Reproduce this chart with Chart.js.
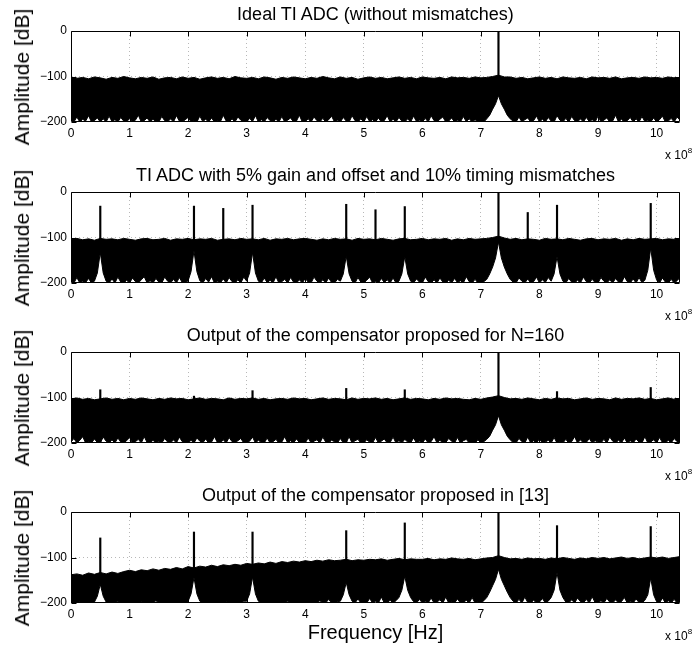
<!DOCTYPE html>
<html><head><meta charset="utf-8">
<script src="https://cdn.jsdelivr.net/npm/chart.js@4/dist/chart.umd.min.js"></script>
<style>
html,body{margin:0;padding:0;background:#fff;}
#wrap{position:relative;width:694px;height:645px;overflow:hidden;font-family:"Liberation Sans",Arial,sans-serif;color:#000;}
canvas{position:absolute;left:0;}
.title{position:absolute;left:71px;width:609px;text-align:center;font-size:18px;line-height:20px;white-space:nowrap;}
.ylab{position:absolute;left:22px;font-size:21px;line-height:22px;white-space:nowrap;transform:translate(-50%,-50%) rotate(-90deg);}
.exp{position:absolute;left:665px;font-size:12px;line-height:14px;white-space:nowrap;}
.exp sup{font-size:8px;position:relative;top:-1px;}
.xlab{position:absolute;left:71px;width:609px;text-align:center;font-size:20px;line-height:22px;white-space:nowrap;}
</style></head>
<body><div id="wrap"></div>
<script>
// frequency grid of the upper noise envelope (x 10^8 Hz)
const freq = [0,0.1,0.2,0.3,0.4,0.5,0.6,0.7,0.8,0.9,1,1.1,1.2,1.3,1.4,1.5,1.6,1.7,1.8,1.9,2,2.1,2.2,2.3,2.4,2.5,2.6,2.7,2.8,2.9,3,3.1,3.2,3.3,3.4,3.5,3.6,3.7,3.8,3.9,4,4.1,4.2,4.3,4.4,4.5,4.6,4.7,4.8,4.9,5,5.1,5.2,5.3,5.4,5.5,5.6,5.7,5.8,5.9,6,6.1,6.2,6.3,6.4,6.5,6.6,6.7,6.8,6.9,7,7.1,7.2,7.3,7.4,7.5,7.6,7.7,7.8,7.9,8,8.1,8.2,8.3,8.4,8.5,8.6,8.7,8.8,8.9,9,9.1,9.2,9.3,9.4,9.5,9.6,9.7,9.8,9.9,10,10.1,10.2,10.3,10.4];
// frequency grid of the lower noise envelope (x 10^8 Hz)
const botFreq = [0,0.05,0.1,0.15,0.2,0.25,0.3,0.35,0.4,0.45,
0.5,0.55,0.6,0.65,0.7,0.75,0.8,0.85,0.9,0.95,
1,1.05,1.1,1.15,1.2,1.25,1.3,1.35,1.4,1.45,
1.5,1.55,1.6,1.65,1.7,1.75,1.8,1.85,1.9,1.95,
2,2.05,2.1,2.15,2.2,2.25,2.3,2.35,2.4,2.45,
2.5,2.55,2.6,2.65,2.7,2.75,2.8,2.85,2.9,2.95,
3,3.05,3.1,3.15,3.2,3.25,3.3,3.35,3.4,3.45,
3.5,3.55,3.6,3.65,3.7,3.75,3.8,3.85,3.9,3.95,
4,4.05,4.1,4.15,4.2,4.25,4.3,4.35,4.4,4.45,
4.5,4.55,4.6,4.65,4.7,4.75,4.8,4.85,4.9,4.95,
5,5.05,5.1,5.15,5.2,5.25,5.3,5.35,5.4,5.45,
5.5,5.55,5.6,5.65,5.7,5.75,5.8,5.85,5.9,5.95,
6,6.05,6.1,6.15,6.2,6.25,6.3,6.35,6.4,6.45,
6.5,6.55,6.6,6.65,6.7,6.75,6.8,6.85,6.9,6.95,
7,7.05,7.1,7.15,7.2,7.25,7.3,7.35,7.4,7.45,
7.5,7.55,7.6,7.65,7.7,7.75,7.8,7.85,7.9,7.95,
8,8.05,8.1,8.15,8.2,8.25,8.3,8.35,8.4,8.45,
8.5,8.55,8.6,8.65,8.7,8.75,8.8,8.85,8.9,8.95,
9,9.05,9.1,9.15,9.2,9.25,9.3,9.35,9.4,9.45,
9.5,9.55,9.6,9.65,9.7,9.75,9.8,9.85,9.9,9.95,
10,10.05,10.1,10.15,10.2,10.25,10.3,10.35,10.4];

const titles = ["Ideal TI ADC (without mismatches)","TI ADC with 5% gain and offset and 10% timing mismatches","Output of the compensator proposed for N=160","Output of the compensator proposed in [13]"];
const yTicks = [0,-100,-200];
const xTicks = [0,1,2,3,4,5,6,7,8,9,10];

// Plot 1: ideal
const top1 = [-101,-104,-102,-105,-101,-103,-106,-102,-104,-100,
-103,-105,-102,-104,-101,-106,-103,-102,-105,-101,
-104,-102,-106,-103,-101,-104,-102,-105,-100,-103,
-104,-102,-105,-101,-103,-106,-102,-104,-101,-103,
-105,-102,-104,-100,-103,-105,-101,-104,-102,-106,
-103,-101,-104,-102,-105,-103,-101,-104,-102,-105,
-101,-103,-104,-102,-105,-101,-103,-102,-104,-101,
-103,-102,-100,-97,-101,-101,-104,-102,-105,-103,
-101,-104,-102,-105,-101,-103,-104,-102,-105,-101,
-103,-102,-104,-101,-105,-103,-102,-104,-101,-103,
-102,-104,-101,-103,-102];
const bot1 = [-196,-200,-189,-200,-194,-198,-186,-200,-197,-191,
-200,-193,-200,-187,-199,-195,-200,-190,-198,-200,
-192,-200,-196,-185,-200,-197,-191,-200,-194,-199,
-200,-188,-197,-200,-193,-200,-186,-198,-200,-195,
-190,-200,-196,-200,-187,-199,-194,-200,-191,-200,
-197,-200,-185,-198,-200,-193,-200,-189,-196,-200,
-200,-192,-199,-186,-200,-195,-200,-190,-197,-200,
-194,-200,-188,-200,-196,-191,-200,-198,-185,-200,
-199,-193,-200,-189,-197,-200,-192,-200,-195,-187,
-200,-196,-200,-190,-198,-200,-186,-197,-200,-193,
-200,-188,-199,-195,-200,-191,-200,-197,-186,-200,
-194,-200,-190,-198,-200,-193,-200,-187,-199,-196,
-200,-192,-200,-186,-197,-200,-194,-189,-200,-198,
-191,-200,-196,-200,-188,-199,-193,-200,-195,-200,
-198,-200,-193,-185,-172,-160,-142,-160,-172,-185,
-193,-198,-200,-189,-200,-195,-191,-200,-197,-187,
-200,-194,-200,-190,-198,-200,-186,-196,-200,-192,
-200,-188,-197,-200,-193,-200,-190,-199,-195,-200,
-187,-200,-196,-191,-200,-198,-185,-200,-194,-200,
-197,-190,-200,-193,-200,-188,-199,-196,-200,-191,
-200,-195,-187,-200,-198,-192,-200,-189,-196];
const spikeF1 = [7.3];
const spikeDb1 = [0];

// Plot 2: with mismatches
const top2 = [-104,-102,-105,-103,-106,-102,-104,-103,-105,-102,
-104,-106,-103,-102,-105,-104,-102,-106,-103,-104,
-102,-105,-103,-104,-102,-106,-104,-103,-105,-102,
-104,-103,-105,-102,-106,-103,-104,-102,-105,-103,
-102,-104,-106,-103,-105,-102,-104,-103,-106,-102,
-104,-103,-105,-102,-104,-106,-103,-102,-105,-104,
-102,-105,-103,-104,-102,-106,-103,-105,-102,-104,
-103,-102,-100,-97,-101,-104,-102,-105,-103,-104,
-106,-102,-104,-103,-105,-102,-104,-106,-103,-102,
-105,-103,-104,-102,-106,-103,-105,-102,-104,-103,
-102,-105,-103,-104,-102];
const bot2 = [-193,-200,-188,-200,-196,-199,-190,-200,-196,-178,
-133,-178,-196,-200,-191,-200,-187,-198,-200,-194,
-200,-189,-197,-200,-193,-186,-200,-195,-200,-190,
-198,-200,-187,-196,-200,-192,-200,-188,-199,-200,
-195,-175,-129,-175,-195,-200,-190,-198,-186,-200,
-196,-200,-191,-200,-188,-197,-200,-193,-200,-187,
-196,-178,-133,-178,-196,-200,-189,-199,-194,-200,
-186,-200,-197,-192,-200,-188,-198,-200,-193,-200,
-190,-198,-200,-187,-196,-200,-193,-200,-189,-199,
-200,-192,-196,-180,-141,-180,-196,-200,-188,-198,
-200,-194,-187,-200,-196,-200,-190,-199,-193,-200,
-189,-200,-196,-180,-142,-180,-196,-200,-191,-198,
-200,-187,-197,-200,-193,-200,-189,-198,-200,-194,
-200,-190,-199,-195,-200,-186,-197,-200,-192,-200,
-200,-197,-192,-180,-165,-145,-110,-145,-165,-180,
-192,-198,-200,-189,-196,-200,-191,-200,-197,-187,
-200,-193,-199,-188,-196,-180,-142,-180,-196,-200,
-190,-198,-200,-194,-200,-187,-197,-200,-192,-199,
-200,-188,-196,-200,-193,-200,-190,-198,-200,-186,
-197,-200,-191,-200,-188,-199,-194,-172,-123,-172,
-193,-200,-189,-198,-200,-192,-200,-195,-188];
const spikeF2 = [0.5,2.1,2.6,3.1,4.7,5.2,5.7,7.3,7.8,8.3,9.9];
const spikeDb2 = [-31,-31,-36,-29,-27,-39,-32,0,-45,-29,-25];

// Plot 3: proposed compensator N=160
const top3 = [-103,-101,-104,-102,-105,-103,-101,-104,-102,-105,
-102,-104,-101,-103,-105,-102,-104,-101,-103,-102,
-105,-103,-101,-104,-102,-103,-105,-101,-104,-102,
-103,-101,-104,-102,-105,-103,-102,-104,-101,-103,
-102,-105,-103,-101,-104,-102,-103,-105,-101,-104,
-102,-103,-101,-104,-102,-105,-103,-101,-104,-102,
-103,-105,-102,-104,-101,-103,-102,-104,-105,-102,
-104,-101,-99,-96,-100,-103,-102,-104,-101,-103,
-105,-102,-104,-101,-103,-102,-105,-103,-101,-104,
-102,-103,-105,-101,-104,-102,-103,-101,-104,-102,
-105,-103,-101,-104,-102];
const bot3 = [-198,-190,-200,-194,-186,-200,-197,-200,-191,-199,
-200,-187,-196,-200,-193,-200,-189,-198,-200,-195,
-188,-200,-197,-192,-200,-186,-199,-200,-194,-200,
-196,-200,-190,-198,-200,-193,-200,-187,-197,-200,
-200,-194,-200,-189,-196,-200,-191,-200,-198,-186,
-199,-200,-193,-200,-188,-197,-200,-195,-190,-200,
-200,-196,-187,-200,-194,-199,-200,-189,-200,-197,
-192,-200,-198,-186,-200,-195,-200,-191,-199,-200,
-200,-189,-200,-196,-193,-200,-187,-198,-200,-194,
-197,-200,-190,-200,-199,-186,-200,-195,-192,-200,
-200,-193,-198,-200,-188,-200,-196,-191,-200,-199,
-187,-200,-195,-200,-192,-198,-200,-189,-200,-196,
-200,-191,-200,-197,-186,-200,-194,-200,-199,-190,
-196,-200,-188,-200,-195,-192,-200,-198,-200,-193,
-200,-197,-192,-185,-172,-160,-140,-160,-172,-185,
-193,-199,-200,-190,-197,-200,-187,-200,-195,-200,
-191,-200,-198,-194,-200,-188,-200,-196,-200,-192,
-200,-197,-186,-200,-193,-200,-199,-190,-200,-195,
-198,-200,-192,-200,-187,-196,-200,-194,-200,-189,
-200,-195,-200,-191,-198,-200,-186,-200,-197,-193,
-200,-188,-199,-200,-194,-200,-190,-197,-200];
const spikeF3 = [0.5,2.1,3.1,4.7,5.7,7.3,8.3,9.9];
const spikeDb3 = [-83,-97,-85,-80,-83,0,-87,-78];

// Plot 4: compensator of [13]
const top4 = [-138,-136,-139,-134,-137,-133,-136,-132,-135,-131,
-128,-131,-127,-129,-125,-128,-124,-126,-122,-125,
-120,-123,-119,-121,-117,-120,-116,-118,-115,-117,
-113,-115,-112,-114,-110,-113,-109,-111,-108,-110,
-107,-109,-106,-108,-105,-107,-106,-104,-107,-105,
-106,-104,-105,-103,-106,-104,-102,-105,-103,-104,
-104,-102,-105,-103,-104,-101,-103,-104,-102,-105,
-103,-101,-100,-96,-100,-103,-102,-104,-101,-103,
-102,-104,-101,-103,-100,-102,-104,-101,-103,-100,
-102,-100,-103,-101,-99,-102,-100,-103,-101,-99,
-101,-99,-102,-100,-98];
const bot4 = [-200,-200,-200,-197,-200,-200,-200,-200,-198,-185,
-159,-185,-198,-200,-200,-200,-196,-200,-200,-200,
-200,-200,-200,-200,-197,-200,-200,-200,-200,-195,
-200,-200,-200,-200,-200,-198,-200,-200,-200,-200,
-196,-180,-144,-180,-196,-200,-200,-200,-198,-200,
-200,-200,-200,-197,-200,-200,-200,-200,-200,-196,
-196,-180,-143,-180,-196,-200,-200,-198,-200,-200,
-200,-200,-200,-200,-196,-200,-200,-200,-200,-200,
-200,-198,-200,-200,-200,-195,-200,-200,-192,-200,
-200,-197,-196,-182,-155,-182,-196,-200,-191,-200,
-198,-200,-190,-200,-196,-200,-187,-200,-199,-194,
-200,-195,-188,-172,-141,-172,-188,-197,-200,-192,
-200,-196,-200,-189,-200,-198,-193,-200,-187,-200,
-197,-200,-191,-200,-199,-194,-200,-188,-200,-196,
-200,-195,-188,-176,-162,-148,-126,-148,-162,-176,
-188,-196,-200,-192,-200,-187,-199,-200,-194,-200,
-198,-190,-200,-196,-188,-172,-133,-172,-188,-198,
-200,-193,-200,-189,-197,-200,-192,-200,-186,-199,
-200,-195,-200,-190,-198,-200,-193,-200,-197,-188,
-200,-196,-200,-191,-199,-200,-194,-182,-145,-182,
-197,-200,-189,-200,-195,-200,-192,-200,-197];
const spikeF4 = [0.5,2.1,3.1,4.7,5.7,7.3,8.3,9.9];
const spikeDb4 = [-57,-44,-44,-41,-24,0,-30,-32];

const panels = [
  {top:top1, bot:bot1, sf:spikeF1, sd:spikeDb1},
  {top:top2, bot:bot2, sf:spikeF2, sd:spikeDb2},
  {top:top3, bot:bot3, sf:spikeF3, sd:spikeDb3},
  {top:top4, bot:bot4, sf:spikeF4, sd:spikeDb4}
];
const canvasTop = [0,161,321,481];
const canvasH = [161,160,160,164];
const FONT = '"Liberation Sans", Arial, sans-serif';

const framePlugin = {
  id:'frame',
  afterDatasetsDraw(chart){
    const {ctx, chartArea:a, scales:{x,y}} = chart;
    const L = Math.round(a.left)+0.5, R = Math.round(a.right)-0.5;
    const T = Math.round(a.top)+0.5, B = Math.round(a.bottom)-0.5;
    ctx.save();
    ctx.strokeStyle = '#000'; ctx.lineWidth = 1;
    ctx.beginPath();
    ctx.rect(L, T, R-L, B-T);
    xTicks.forEach(v=>{
      if (v===0) return;
      const px = Math.round(x.getPixelForValue(v))+0.5;
      ctx.moveTo(px, T); ctx.lineTo(px, T+5);
      ctx.moveTo(px, B); ctx.lineTo(px, B-5);
    });
    yTicks.forEach(v=>{
      const py = Math.round(y.getPixelForValue(v))+0.5;
      ctx.moveTo(L, py); ctx.lineTo(L+5, py);
      ctx.moveTo(R, py); ctx.lineTo(R-5, py);
    });
    ctx.stroke();
    ctx.restore();
  }
};

function nearestIdx(arr, f){
  let best=0;
  for(let i=1;i<arr.length;i++){ if(Math.abs(arr[i]-f)<Math.abs(arr[best]-f)) best=i; }
  return best;
}

const wrap = document.getElementById('wrap');
panels.forEach((p, k)=>{
  const cv = document.createElement('canvas');
  cv.width = 694; cv.height = canvasH[k];
  cv.style.top = canvasTop[k]+'px';
  cv.style.width = '694px'; cv.style.height = canvasH[k]+'px';
  wrap.appendChild(cv);

  const t = document.createElement('div');
  t.className='title'; t.textContent = titles[k];
  t.style.top = (canvasTop[k]+4)+'px';
  wrap.appendChild(t);

  const yl = document.createElement('div');
  yl.className='ylab'; yl.textContent='Amplitude [dB]';
  yl.style.top = (canvasTop[k]+76.5)+'px';
  wrap.appendChild(yl);

  const ex = document.createElement('div');
  ex.className='exp'; ex.innerHTML='x 10<sup>8</sup>';
  ex.style.top = (canvasTop[k]+145)+'px';
  wrap.appendChild(ex);

  const H = canvasH[k];
  new Chart(cv, {
    type:'line',
    data:{
      datasets:[
        {data: botFreq.map((f,i)=>({x:f, y:p.bot[i]})), borderColor:'#000', borderWidth:1, pointRadius:0, fill:false, tension:0},
        {data: freq.map((f,i)=>({x:f, y:p.top[i]})), borderColor:'#000', backgroundColor:'#000', borderWidth:1, pointRadius:0, fill:'-1', tension:0},
        {type:'bar', data: p.sf.map((f,i)=>({x:f, y:[p.bot[nearestIdx(botFreq, f)], p.sd[i]]})), backgroundColor:'#000', borderWidth:0, barThickness:1.5}
      ]
    },
    options:{
      responsive:false, animation:false, devicePixelRatio:1,
      layout:{padding:{top:31, right:14, left:0, bottom:0}},
      plugins:{legend:{display:false}, tooltip:{enabled:false}, title:{display:false}},
      scales:{
        x:{type:'linear', min:0, max:10.4, offset:false,
          ticks:{stepSize:1, includeBounds:false, autoSkip:false, maxRotation:0, padding:4, color:'#000', font:{family:FONT, size:12},
            callback:v=>String(v)},
          grid:{color:c=> (c.tick && c.tick.value===0) ? 'rgba(0,0,0,0)' : '#b8b8b8', lineWidth:1, drawTicks:false, offset:false},
          border:{display:false, dash:[1,3]},
          afterFit:s=>{ s.height = H-122; }
        },
        y:{type:'linear', min:-200, max:0,
          ticks:{stepSize:100, padding:4, color:'#000', font:{family:FONT, size:12},
            callback:v=> v<0 ? '\u2212'+Math.abs(v) : String(v)},
          grid:{color:c=> (c.tick && (c.tick.value===0 || c.tick.value===-200)) ? 'rgba(0,0,0,0)' : '#b8b8b8', lineWidth:1, drawTicks:false},
          border:{display:false, dash:[1,3]},
          afterFit:s=>{ s.width = 71; }
        }
      }
    },
    plugins:[framePlugin]
  });
});

const xl = document.createElement('div');
xl.className='xlab'; xl.textContent='Frequency [Hz]';
xl.style.top = '621px';
wrap.appendChild(xl);
</script>
</body></html>
